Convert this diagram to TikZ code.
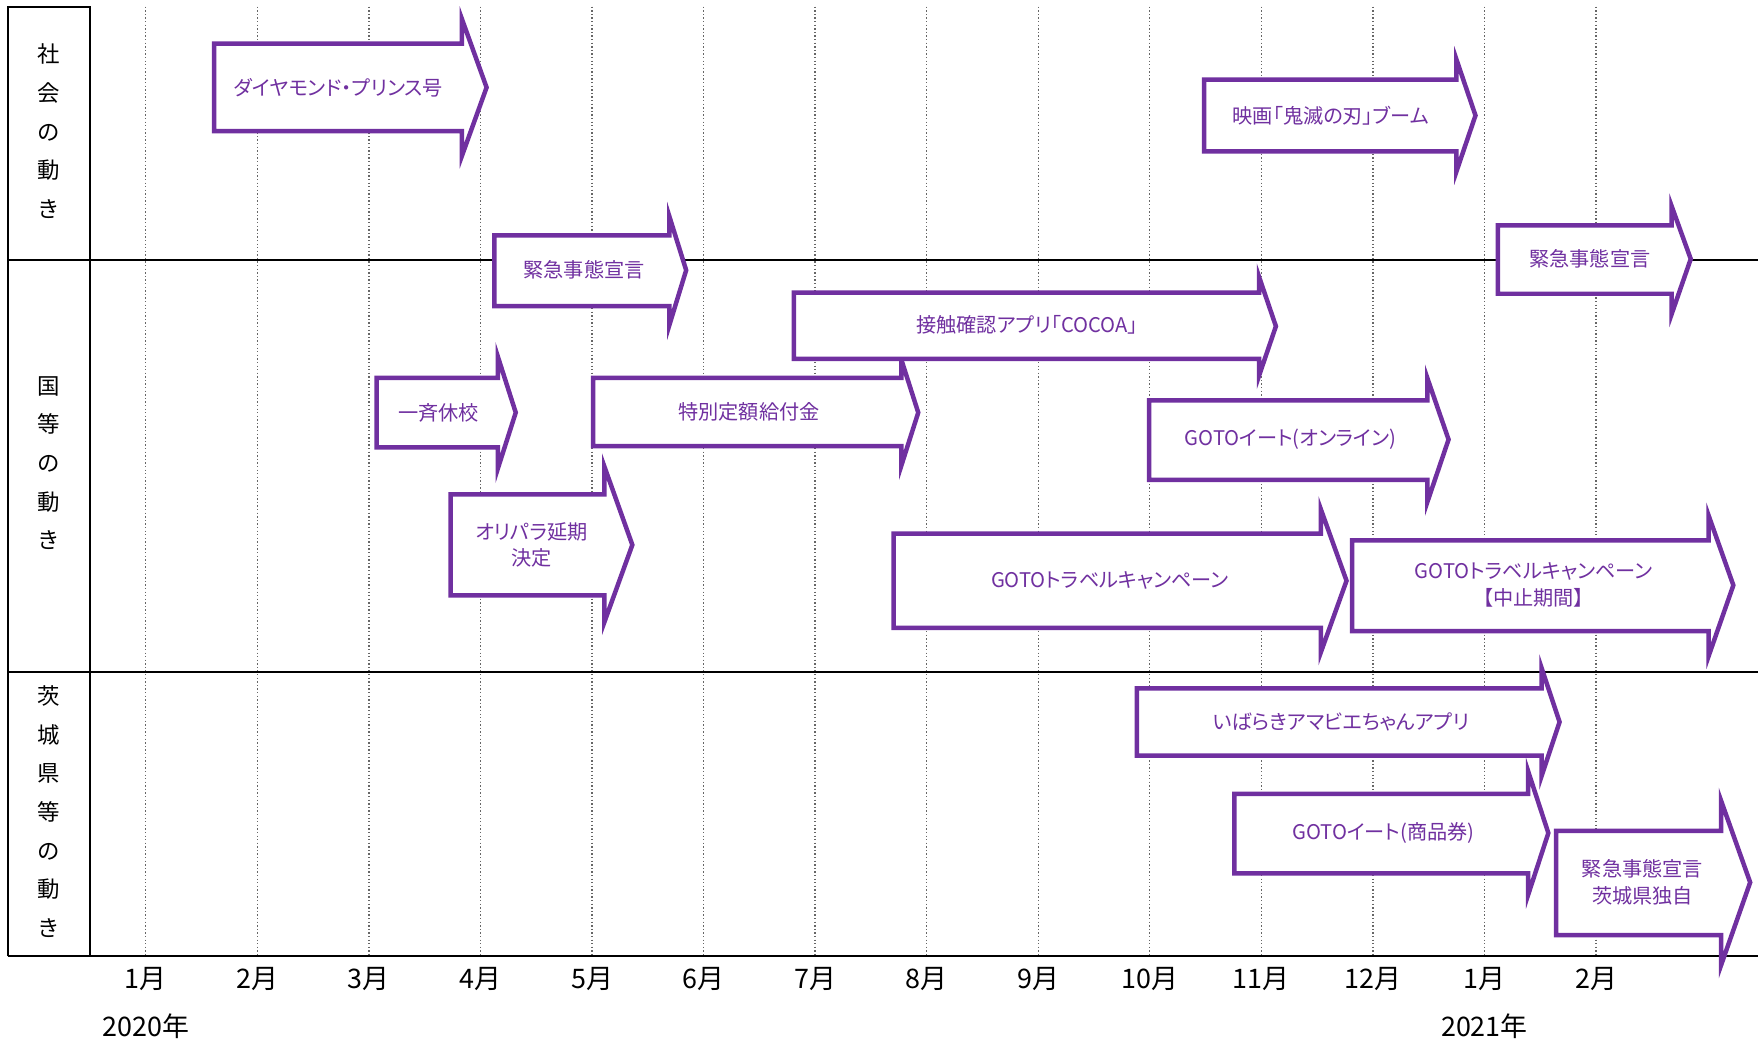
\documentclass[tikz,border=0pt]{standalone}
\usepackage{fontspec}
\setmainfont[RawFeature=+palt]{Noto Sans CJK JP}
\usepackage{tikz}
\definecolor{movepurple}{RGB}{112,48,160}

\begin{document}
\begin{tikzpicture}[x=0.5pt,y=0.5pt,yscale=-1,xscale=1,
  movearrow/.style={draw=movepurple,fill=white,line width=2pt,line join=miter},
  movetext/.style={text=movepurple,font=\fontsize{9}{12}\selectfont,align=center,inner sep=0.75pt},
  monthline/.style={draw=black!60,line width=0.6pt,densely dotted},
  frameline/.style={line width=0.9pt},
  monthlabel/.style={font=\fontsize{12}{14}\selectfont,inner sep=0.75pt},
  rowlabel/.style={font=\fontsize{10}{17.25}\selectfont,align=center,inner sep=0.75pt}]
\useasboundingbox (0,0) rectangle (1568,930);

%Month Lines and Labels
\foreach \m [count=\i from 0] in {1,2,3,4,5,6,7,8,9,10,11,12,1,2}{
  \draw [monthline] (130+99.5*\i,6) -- (130+99.5*\i,853) ;
  \node [monthlabel] (month\i) at (130+99.5*\i,873) {\m 月};
}
% Text Node
\node [monthlabel] (year2020) at (130,915) {2020年};
% Text Node
\node [monthlabel] (year2021) at (1324,915) {2021年};

%Frame Lines
\draw [frameline] (7,853) -- (7,6) -- (80,6) -- (80,853) ;
\draw [frameline] (7,232) -- (1568,232) ;
\draw [frameline] (7,599) -- (1568,599) ;
\draw [frameline] (7,853) -- (1568,853) ;

% Text Node
\node [rowlabel] (rowsociety) at (43,117) {社\\会\\の\\動\\き};
% Text Node
\node [rowlabel] (rownation) at (43,413) {国\\等\\の\\動\\き};
% Text Node
\node [rowlabel] (rowibaraki) at (43,724) {茨\\城\\県\\等\\の\\動\\き};

%Shape: Right Arrow
\draw [movearrow] (191,39) -- (412,39) -- (412,17) -- (434,78) -- (412,139) -- (412,117) -- (191,117) -- cycle ;
%Shape: Right Arrow
\draw [movearrow] (1074,71) -- (1299,71) -- (1299,53) -- (1316,103) -- (1299,153) -- (1299,135) -- (1074,135) -- cycle ;
%Shape: Right Arrow
\draw [movearrow] (1336,201) -- (1491,201) -- (1491,184) -- (1508,231) -- (1491,280) -- (1491,262) -- (1336,262) -- cycle ;
%Shape: Right Arrow
\draw [movearrow] (441,210) -- (597,210) -- (597,193) -- (612,241) -- (597,290) -- (597,273) -- (441,273) -- cycle ;
%Shape: Right Arrow
\draw [movearrow] (529,337) -- (804,337) -- (804,321) -- (819,368) -- (804,415) -- (804,398) -- (529,398) -- cycle ;
%Shape: Right Arrow
\draw [movearrow] (708,261) -- (1123,261) -- (1123,247) -- (1138,291) -- (1123,335) -- (1123,320) -- (708,320) -- cycle ;
%Shape: Right Arrow
\draw [movearrow] (336,337) -- (444,337) -- (444,318) -- (460,368) -- (444,418) -- (444,399) -- (336,399) -- cycle ;
%Shape: Right Arrow
\draw [movearrow] (402,441) -- (539,441) -- (539,416) -- (564,486) -- (539,555) -- (539,531) -- (402,531) -- cycle ;
%Shape: Right Arrow
\draw [movearrow] (1025,357) -- (1273,357) -- (1273,337) -- (1292,392) -- (1273,448) -- (1273,428) -- (1025,428) -- cycle ;
%Shape: Right Arrow
\draw [movearrow] (797,476) -- (1178,476) -- (1178,454) -- (1201,518) -- (1178,582) -- (1178,560) -- (797,560) -- cycle ;
%Shape: Right Arrow
\draw [movearrow] (1206,482) -- (1524,482) -- (1524,460) -- (1546,522) -- (1524,585) -- (1524,563) -- (1206,563) -- cycle ;
%Shape: Right Arrow
\draw [movearrow] (1014,614) -- (1375,614) -- (1375,596) -- (1391,644) -- (1375,692) -- (1375,674) -- (1014,674) -- cycle ;
%Shape: Right Arrow
\draw [movearrow] (1101,708) -- (1363,708) -- (1363,688) -- (1381,743) -- (1363,798) -- (1363,779) -- (1101,779) -- cycle ;
%Shape: Right Arrow
\draw [movearrow] (1388,741) -- (1535,741) -- (1535,714) -- (1561,787) -- (1535,861) -- (1535,834) -- (1388,834) -- cycle ;

% Text Node
\node [movetext] (diamond) at (302,78) {ダイヤモンド・プリンス号};
% Text Node
\node [movetext] (kimetsu) at (1187,103) {映画「鬼滅の刃」ブーム};
% Text Node
\node [movetext] (kinkyutwo) at (1418,231) {緊急事態宣言};
% Text Node
\node [movetext] (kinkyuone) at (521,241) {緊急事態宣言};
% Text Node
\node [movetext] (kyufu) at (668,367) {特別定額給付金};
% Text Node
\node [movetext] (cocoa) at (916,290) {接触確認アプリ「COCOA」};
% Text Node
\node [movetext] (kyuko) at (391,368) {一斉休校};
% Text Node
\node [movetext] (olypara) at (474,486) {オリパラ延期\\決定};
% Text Node
\node [movetext] (eatonline) at (1151,392) {GOTOイート(オンライン)};
% Text Node
\node [movetext] (travel) at (990,518) {GOTOトラベルキャンペーン};
% Text Node
\node [movetext] (travelstop) at (1368,522) {GOTOトラベルキャンペーン\\【中止期間】};
% Text Node
\node [movetext] (amabie) at (1196,644) {いばらきアマビエちゃんアプリ};
% Text Node
\node [movetext] (eatticket) at (1234,743) {GOTOイート(商品券)};
% Text Node
\node [movetext] (kinkyuibaraki) at (1465,787) {緊急事態宣言\\茨城県独自};

\end{tikzpicture}
\end{document}
